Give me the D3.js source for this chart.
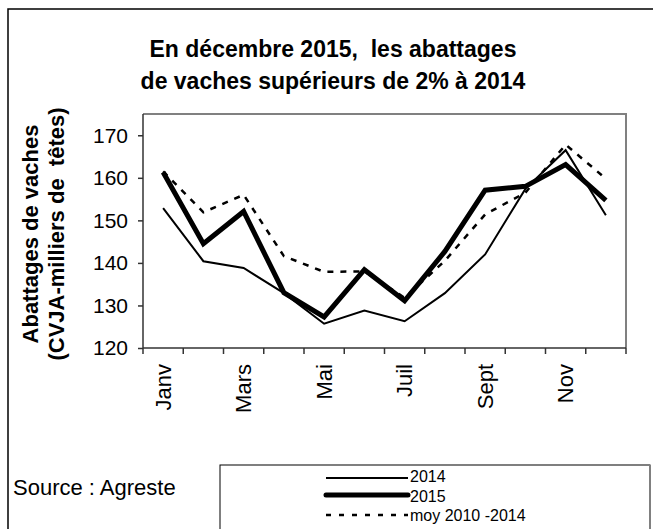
<!DOCTYPE html>
<html>
<head>
<meta charset="utf-8">
<script src="https://cdn.jsdelivr.net/npm/d3@7"></script>
<style>
  body { margin: 0; background: #fff; }
  text { font-family: "Liberation Sans", Arial, sans-serif; fill: #000; white-space: pre; }
</style>
</head>
<body>
<div id="chart"></div>
<script>
const months = ["Janv", "Fev", "Mars", "Avr", "Mai", "Juin", "Juil", "Aout", "Sept", "Oct", "Nov", "Dec"];
const monthLabels = ["Janv", "Mars", "Mai", "Juil", "Sept", "Nov"];
const values2014 = [152.9, 140.4, 138.8, 132.9, 125.7, 128.8, 126.3, 132.9, 142.0, 157.4, 166.5, 151.2];
const values2015 = [161.3, 144.5, 152.1, 133.0, 127.3, 138.4, 131.1, 142.7, 157.1, 158.0, 163.1, 154.7];
const valuesMoy = [161.5, 151.9, 156.0, 141.6, 137.9, 138.0, 131.8, 140.5, 151.4, 156.5, 167.8, 159.8];
const yTicks = [120, 130, 140, 150, 160, 170];

const width = 653;
const height = 529;

const svg = d3.select('#chart').append('svg')
  .attr('width', width)
  .attr('height', height);

// outer frame
svg.append('rect')
  .attr('x', 8).attr('y', 9)
  .attr('width', 700).attr('height', 600)
  .attr('fill', 'none').attr('stroke', '#000').attr('stroke-width', 1.5);

// title
const title = svg.append('text')
  .attr('text-anchor', 'middle')
  .style('font-size', '23px')
  .style('font-weight', 'bold');
title.append('tspan').attr('x', 333).attr('y', 57).text('En décembre 2015,  les abattages');
title.append('tspan').attr('x', 333).attr('y', 89).text('de vaches supérieurs de 2% à 2014');

// scales
const plotLeft = 143, plotRight = 626, plotTop = 114, plotBottom = 348;
const x = d3.scaleBand().domain(months).range([plotLeft, plotRight]);
const y = d3.scaleLinear().domain([120, 175]).range([plotBottom, plotTop]);

// plot frame (top + right grey)
svg.append('path')
  .attr('d', `M${plotLeft},${plotTop}H${plotRight}V${plotBottom}`)
  .attr('fill', 'none').attr('stroke', '#808080').attr('stroke-width', 2);

// y axis
const yAxis = svg.append('g')
  .attr('transform', `translate(${plotLeft},0)`)
  .call(d3.axisLeft(y).tickValues(yTicks).tickSize(5).tickPadding(10).tickSizeOuter(0));
yAxis.select('.domain').attr('stroke', '#333').attr('stroke-width', 1.5)
  .attr('d', `M0,${plotBottom}V${plotTop}`);
yAxis.selectAll('.tick line').attr('stroke', '#333').attr('stroke-width', 1.5);
yAxis.selectAll('.tick text')
  .style('font-size', '21px')
  .style('font-family', '"Liberation Sans", Arial, sans-serif')
  .attr('fill', '#000');

// x axis: ticks at month boundaries
const xg = svg.append('g');
xg.append('line')
  .attr('x1', plotLeft).attr('x2', plotRight)
  .attr('y1', plotBottom).attr('y2', plotBottom)
  .attr('stroke', '#333').attr('stroke-width', 1.5);
xg.selectAll('.xtick')
  .data(months.map(m => x(m)).concat([x(months[months.length - 1]) + x.bandwidth()]))
  .join('line')
  .attr('class', 'xtick')
  .attr('x1', d => d).attr('x2', d => d)
  .attr('y1', plotBottom).attr('y2', plotBottom + 6)
  .attr('stroke', '#333').attr('stroke-width', 1.5);
xg.selectAll('.xlabel')
  .data(monthLabels)
  .join('text')
  .attr('class', 'xlabel')
  .attr('text-anchor', 'end')
  .attr('dy', '0.35em')
  .style('font-size', '22px')
  .attr('transform', d => `translate(${x(d) + x.bandwidth() / 2},364) rotate(-90)`)
  .text(d => d);

// y title
const yTitle = svg.append('text')
  .attr('text-anchor', 'middle')
  .style('font-size', '22px')
  .style('font-weight', 'bold')
  .attr('transform', 'translate(38,234) rotate(-90)');
yTitle.append('tspan').attr('x', 0).attr('y', 0).text('Abattages de vaches');
yTitle.append('tspan').attr('x', 0).attr('y', 26).text('(CVJA-milliers de  têtes)');

// lines
const line = d3.line()
  .x((d, i) => x(months[i]) + x.bandwidth() / 2)
  .y(d => y(d));

const series = [
  { name: '2014', values: values2014, width: 2, dash: null },
  { name: '2015', values: values2015, width: 5, dash: null },
  { name: 'moy 2010 -2014', values: valuesMoy, width: 2.5, dash: '6,7' }
];

svg.selectAll('.series')
  .data(series)
  .join('path')
  .attr('class', 'series')
  .attr('d', d => line(d.values))
  .attr('fill', 'none')
  .attr('stroke', '#000')
  .attr('stroke-width', d => d.width)
  .attr('stroke-dasharray', d => d.dash)
  .attr('stroke-linejoin', 'miter');

// source
svg.append('text')
  .attr('x', 13).attr('y', 495)
  .style('font-size', '22px')
  .text('Source : Agreste');

// legend
svg.append('rect')
  .attr('x', 220).attr('y', 465)
  .attr('width', 430).attr('height', 100)
  .attr('fill', '#fff').attr('stroke', '#000').attr('stroke-width', 1);
svg.append('line')
  .attr('x1', 650).attr('x2', 650).attr('y1', 465).attr('y2', 529)
  .attr('stroke', '#808080').attr('stroke-width', 2);

const legendY = [478, 495, 515];
const legendTextShift = [-1.5, 1.5, 0.5];
const legend = svg.selectAll('.legend')
  .data(series)
  .join('g')
  .attr('class', 'legend')
  .attr('transform', (d, i) => `translate(326,${legendY[i]})`);
legend.append('line')
  .attr('x1', 0).attr('x2', 82)
  .attr('stroke', '#000')
  .attr('stroke-width', d => d.width)
  .attr('stroke-dasharray', d => d.dash ? '5,8' : null)
  .attr('stroke-linecap', d => d.width > 3 ? 'round' : 'butt');
legend.append('text')
  .attr('x', 84)
  .attr('y', (d, i) => legendTextShift[i])
  .attr('dy', '0.36em')
  .style('font-size', '16px')
  .text(d => d.name);
</script>
</body>
</html>
